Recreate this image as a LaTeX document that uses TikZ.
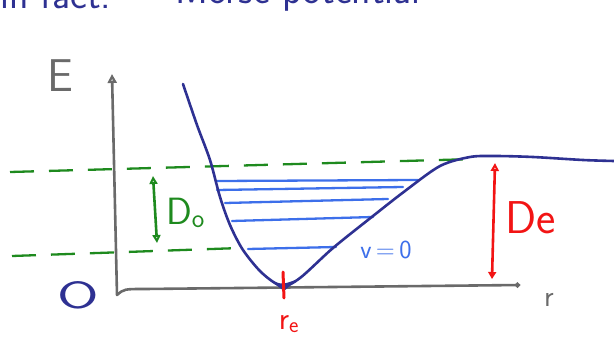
\documentclass[tikz,border=0pt]{standalone}
\usepackage{tikz}
\usetikzlibrary{arrows.meta,positioning}
\definecolor{morseblue}{HTML}{2E3192}
\definecolor{levelblue}{HTML}{3D6FEA}
\definecolor{dgreen}{HTML}{1E8A1E}
\definecolor{axisgray}{HTML}{6A6A6A}
\definecolor{pred}{HTML}{F21414}

\begin{document}
\begin{tikzpicture}[x=1pt,y=-1pt,
        pen/.style={line width=2.6pt,line cap=round,line join=round},
        level/.style={pen,levelblue,line width=2.3pt},
        limit/.style={pen,dgreen,line width=2.3pt,line cap=butt,dash pattern=on 24pt off 15pt},
        hand/.style={inner sep=0pt,font=\sffamily\fontsize{#1}{#1}\selectfont},
        hand/.default=34
      ]
        \useasboundingbox (0,0) rectangle (614,345);
        % heading, cut off by the top edge
        \begin{scope}
          \clip (0,0) rectangle (614,22);
          \node[hand=40,morseblue,anchor=base west] (head1) at (0,9) {in fact:};
          \node[hand=40,morseblue,anchor=base west] (head2) at (175,4) {Morse potential};
        \end{scope}
        % axes
        \coordinate (origin) at (117,295);
        \coordinate (etop) at (112,74);
        \coordinate (rend) at (520,285);
        \draw[pen,axisgray,-{Triangle[open,length=9pt,width=9pt]}] (origin) -- (etop);
        \draw[pen,axisgray,-{Circle[length=5pt]}] (origin) .. controls (124,289) .. (145,289) -- (rend);
        \node[hand=46,axisgray] (elbl) at (60,76) {E};
        \node[hand=30,axisgray] (rlbl) at (549,300) {r};
        \node[hand=40,morseblue] (zero) at (78,295) {\scalebox{1.5}[0.95]{O}};
        % dissociation limit and zero-point level
        \draw[limit] (10,172) -- (475,159);
        \draw[limit] (12,256) -- (240,248);
        % vibrational levels
        \draw[level] (217,181) -- (418,180);
        \draw[level] (217,190) -- (403,187);
        \draw[level] (225,203) -- (388,199);
        \draw[level] (232,221) -- (373,217);
        \draw[level] (248,249) -- (336,247);
        \node[hand=26,levelblue] (vlbl) at (386,250) {v\,=\,0};
        % potential curve
        \draw[pen,morseblue] plot[smooth,tension=0.5] coordinates {(183,84) (197,125) (210,160)
          (220,197) (230,225) (243,250) (262,273) (282,286) (300,278) (333,248) (373,216)
          (405,191) (440,166) (470,157) (495,156) (533,157) (583,160) (614,161)};
        \coordinate (min) at (283,285);
        \fill[morseblue] (268,279) .. controls (282,285) .. (298,279) -- (284,291) -- cycle;
        % D0
        \coordinate (d0top) at (153,176);
        \coordinate (d0bot) at (157,243);
        \draw[pen,dgreen,{Triangle[open,length=8pt,width=8pt]}-{Triangle[open,length=8pt,width=8pt]}] (d0top) -- (d0bot);
        \node[hand=38,dgreen,anchor=west] (d0lbl) at (166,213) {D\textsubscript{o}};
        % De
        \coordinate (detop) at (495,163);
        \coordinate (debot) at (492,279);
        \draw[pen,pred,{Triangle[open,length=8pt,width=8pt]}-{Triangle[length=7pt,width=8pt]}] (detop) -- (debot);
        \node[hand=46,pred,anchor=west] (delbl) at (505,218) {De};
        % re
        \coordinate (retick) at (284,298);
        \draw[pen,pred,line width=3pt] (283,272) -- (retick);
        \node[hand=32,pred] (relbl) at (289,324) {r\textsubscript{e}};
      \end{tikzpicture}
\end{document}
